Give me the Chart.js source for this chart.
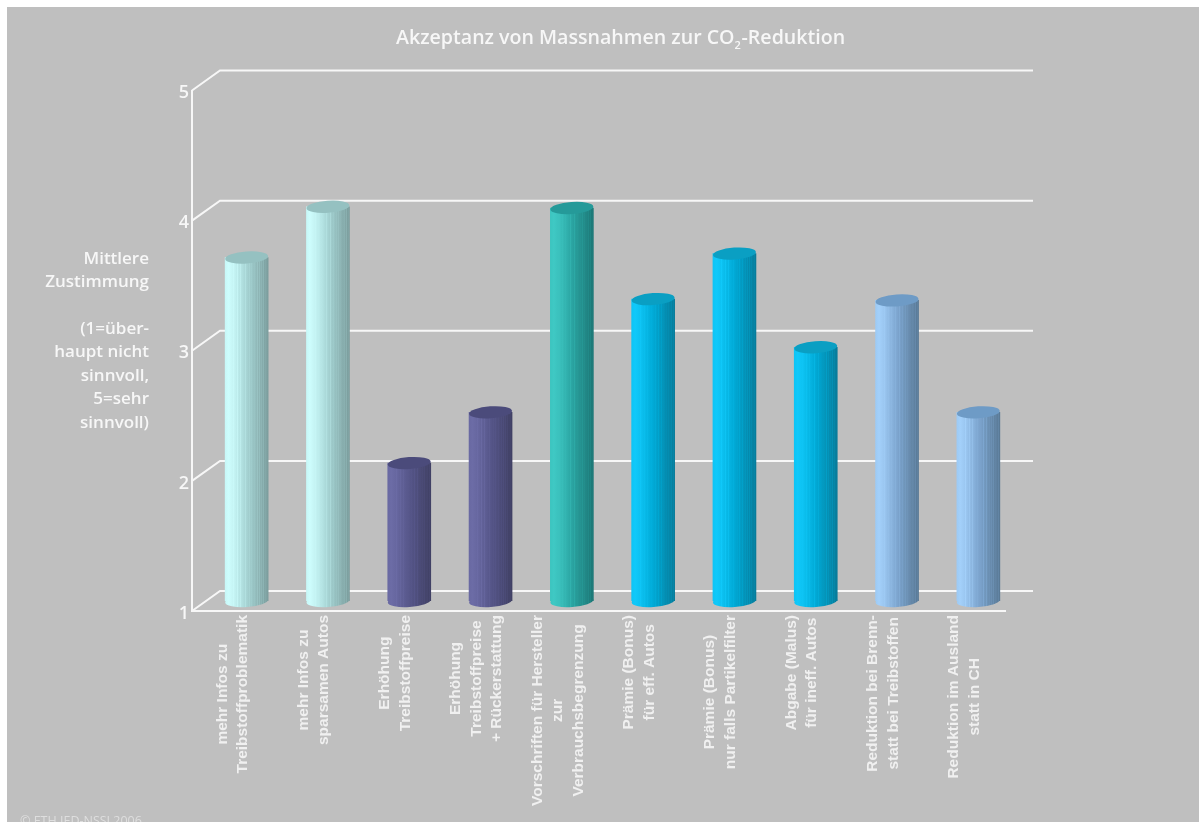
<!DOCTYPE html>
<html>
<head>
<meta charset="utf-8">
<title>Akzeptanz von Massnahmen</title>
<script src="https://cdn.jsdelivr.net/npm/chart.js@4"></script>
<style>
  html, body { margin: 0; padding: 0; background: #fff; overflow: hidden; }
  canvas { display: block; }
</style>
</head>
<body>
<canvas id="grafico" width="1199" height="822"></canvas>
<script>
// categories, one array entry per text line
const categories = [
  ["mehr Infos zu", "Treibstoffproblematik"],
  ["mehr Infos zu", "sparsamen Autos"],
  ["Erhöhung", "Treibstoffpreise"],
  ["Erhöhung", "Treibstoffpreise", "+ Rückerstattung"],
  ["Vorschriften für Hersteller", "zur", "Verbrauchsbegrenzung"],
  ["Prämie (Bonus)", "für eff. Autos"],
  ["Prämie (Bonus)", "nur falls Partikelfilter"],
  ["Abgabe (Malus)", "für ineff. Autos"],
  ["Reduktion bei Brenn-", "statt bei Treibstoffen"],
  ["Reduktion im Ausland", "statt in CH"],
];
const zustimmung = [3.64, 4.03, 2.06, 2.45, 4.02, 3.32, 3.67, 2.95, 3.31, 2.45];
const yTicks = [1, 2, 3, 4, 5];
const axisTitle = ["Mittlere", "Zustimmung", "", "(1=über-", "haupt nicht", "sinnvoll,", "5=sehr", "sinnvoll)"];

// light, mid, dark, top cap
const paletteCyan = ["#cdfdfd", "#a6d4d4", "#7a9c9c", "#95c1c1"];
const paletteNavy = ["#6c6ca6", "#56568a", "#404064", "#4b4b7b"];
const paletteTeal = ["#3fc9c4", "#2aa5a2", "#1c7675", "#259a99"];
const paletteBlue = ["#10c9fa", "#00aad6", "#077a98", "#0a9fc3"];
const paletteSky = ["#a3d0fa", "#7da6d0", "#587894", "#6e9bc6"];
const barPalette = [
  paletteCyan, paletteCyan, paletteNavy, paletteNavy, paletteTeal,
  paletteBlue, paletteBlue, paletteBlue, paletteSky, paletteSky,
];

// offsets of the thin lighter lines on the cylinder side
const stripeOffsets = [0.2, 0.29, 0.36, 0.47, 0.56, 0.62, 0.69, 0.75, 0.8, 0.85, 0.89, 0.93, 0.97];

const depthBack = { x: 28, y: -20 };
const depthBar = { x: 14, y: -10 };
const barWidth = 43;
const capHeight = 6;
const capTilt = -0.07;
const white = "#f7f7f7";

function hexToRgb(hex) {
  return [1, 3, 5].map((i) => parseInt(hex.slice(i, i + 2), 16));
}

function mix(a, b, t) {
  const ca = hexToRgb(a);
  const cb = hexToRgb(b);
  return `rgb(${ca.map((v, i) => Math.round(v + (cb[i] - v) * t)).join(",")})`;
}

// colour of the shading at offset o across the bar
function shade(pal, o) {
  if (o < 0.12) return pal[0];
  if (o < 0.5) return mix(pal[0], pal[1], (o - 0.12) / 0.38);
  return mix(pal[1], pal[2], (o - 0.5) / 0.5);
}

// shaded side of the cylinder with fine vertical stripes
function sideGradient(chart, index) {
  const pal = barPalette[index];
  if (!pal) return "#888888";
  const cx = chart.scales.x.getPixelForValue(index);
  if (!Number.isFinite(cx)) return pal[1];
  const g = chart.ctx.createLinearGradient(cx - barWidth / 2, 0, cx + barWidth / 2, 0);
  g.addColorStop(0, mix(pal[0], pal[1], 0.15));
  g.addColorStop(0.08, pal[0]);
  stripeOffsets.forEach((o) => {
    g.addColorStop(o - 0.012, shade(pal, o));
    g.addColorStop(o, shade(pal, o - 0.12));
    g.addColorStop(o + 0.012, shade(pal, o));
  });
  g.addColorStop(1, pal[2]);
  return g;
}

const cylinderPlugin = {
  id: "cylinder",
  beforeDraw(chart) {
    const ctx = chart.ctx;
    ctx.save();
    ctx.fillStyle = "#bfbfbf";
    ctx.fillRect(7, 7, chart.width - 7, chart.height - 7);
    ctx.restore();
  },
  beforeDatasetsDraw(chart) {
    const ctx = chart.ctx;
    const { x: xs, y: ys } = chart.scales;
    // back wall and the diagonals to it
    ctx.save();
    ctx.strokeStyle = white;
    ctx.lineWidth = 2;
    ctx.beginPath();
    yTicks.forEach((v) => {
      const py = ys.getPixelForValue(v);
      ctx.moveTo(xs.left, py);
      ctx.lineTo(xs.left + depthBack.x, py + depthBack.y);
      ctx.lineTo(xs.right + depthBack.x, py + depthBack.y);
    });
    ctx.stroke();
    ctx.restore();

    // bars are drawn by the library, only moved back into the depth
    ctx.save();
    ctx.translate(depthBar.x, depthBar.y);
    chart.getDatasetMeta(0).data.forEach((bar, i) => {
      ctx.fillStyle = sideGradient(chart, i);
      ctx.beginPath();
      ctx.ellipse(bar.x, ys.getPixelForValue(1), barWidth / 2, capHeight, capTilt, 0, Math.PI * 2);
      ctx.fill();
    });
  },
  afterDatasetsDraw(chart) {
    const ctx = chart.ctx;
    chart.getDatasetMeta(0).data.forEach((bar, i) => {
      ctx.fillStyle = barPalette[i][3];
      ctx.beginPath();
      ctx.ellipse(bar.x, bar.y, barWidth / 2, capHeight, capTilt, 0, Math.PI * 2);
      ctx.fill();
    });
    ctx.restore();
  },
  afterDraw(chart) {
    const ctx = chart.ctx;
    const xs = chart.scales.x;
    ctx.save();
    ctx.fillStyle = white;

    // title, subscript 2 done by hand
    ctx.textBaseline = "alphabetic";
    ctx.textAlign = "left";
    ctx.font = "600 19.6px 'Open Sans'";
    const t1 = "Akzeptanz von Massnahmen zur CO";
    const t2 = "-Reduktion";
    ctx.fillText(t1, 396, 44);
    const w1 = ctx.measureText(t1).width;
    ctx.fillText(t2, 396 + w1 + 7, 44);
    ctx.font = "600 11px 'Open Sans'";
    ctx.fillText("2", 396 + w1, 49);

    // axis title left of the chart
    ctx.font = "600 17px 'Open Sans'";
    ctx.textAlign = "right";
    ctx.textBaseline = "middle";
    axisTitle.forEach((line, i) => {
      if (line) ctx.fillText(line, 149, 259 + i * 23.4);
    });

    // rotated category labels, lines centered in their block
    ctx.font = "bold 15.5px 'Liberation Sans'";
    ctx.textAlign = "center";
    ctx.textBaseline = "middle";
    ctx.fillStyle = "#f0f0f0";
    categories.forEach((lines, i) => {
      const longest = Math.max(...lines.map((l) => ctx.measureText(l).width));
      const cx = xs.getPixelForValue(i);
      lines.forEach((line, n) => {
        ctx.save();
        ctx.translate(cx + (n - (lines.length - 1) / 2) * 20.5, 615 + longest / 2);
        ctx.rotate(-Math.PI / 2);
        ctx.fillText(line, 0, 0);
        ctx.restore();
      });
    });

    // source line, cut by the image border
    ctx.fillStyle = "#dedede";
    ctx.font = "12.5px 'Open Sans'";
    ctx.textAlign = "left";
    ctx.textBaseline = "alphabetic";
    ctx.fillText("© ETH IED-NSSI 2006", 20, 825);
    ctx.restore();
  },
};

new Chart(document.getElementById("grafico"), {
  type: "bar",
  data: {
    labels: categories,
    datasets: [
      {
        label: "Mittlere Zustimmung",
        data: zustimmung,
        base: 1,
        barThickness: barWidth,
        borderWidth: 0,
        backgroundColor: (c) => sideGradient(c.chart, c.dataIndex),
      },
    ],
  },
  options: {
    responsive: false,
    animation: false,
    layout: { padding: { top: 90.5, right: 194, left: 0, bottom: 0 } },
    plugins: { legend: { display: false }, title: { display: false }, tooltip: { enabled: false } },
    scales: {
      x: {
        grid: { display: false },
        border: { color: white, width: 2 },
        ticks: { display: false },
        afterFit(axis) {
          axis.height = 211;
        },
      },
      y: {
        min: 1,
        max: 5,
        grid: { display: false, drawTicks: false },
        border: { color: white, width: 2 },
        ticks: {
          stepSize: 1,
          color: white,
          padding: 3,
          labelOffset: 2.5,
          font: { family: "'Open Sans'", size: 18, weight: "600" },
        },
        afterFit(axis) {
          axis.width = 192;
        },
      },
    },
  },
  plugins: [cylinderPlugin],
});
</script>
</body>
</html>
